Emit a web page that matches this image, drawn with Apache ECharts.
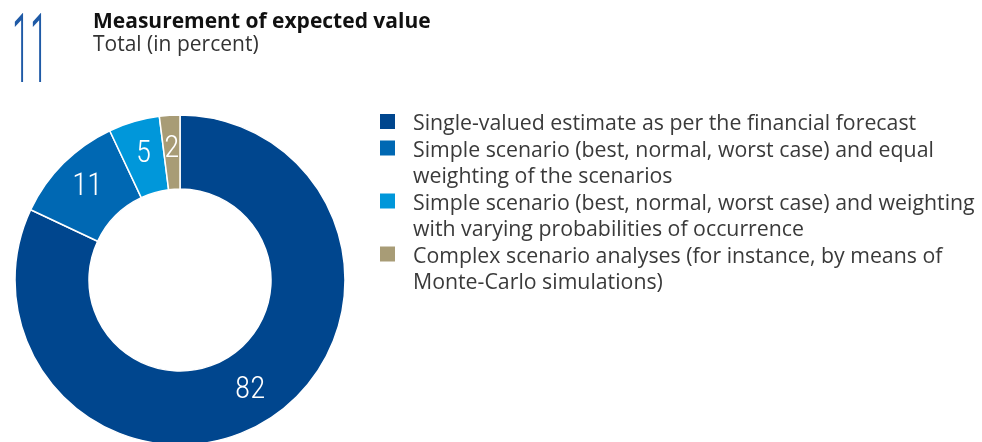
<!DOCTYPE html>
<html>
<head>
<meta charset="utf-8">
<script src="https://cdn.jsdelivr.net/npm/echarts@6/dist/echarts.min.js"></script>
<style>
html, body { margin: 0; padding: 0; background: #fff; }
#main { width: 982px; height: 442px; }
</style>
</head>
<body>
<div id="main"></div>
<script>
// 数据
var chartNo = '11';
var chartTitle = 'Measurement of expected value';
var chartSub = 'Total (in percent)';
var categories = [
  'Single-valued estimate as per the financial forecast',
  'Simple scenario (best, normal, worst case) and equal\nweighting of the scenarios',
  'Simple scenario (best, normal, worst case) and weighting\nwith varying probabilities of occurrence',
  'Complex scenario analyses (for instance, by means of\nMonte-Carlo simulations)'
];
var shares = [82, 11, 5, 2];
var colors = ['#00468e', '#0068b3', '#0097da', '#a89c76'];

var myChart = echarts.init(document.getElementById('main'));

// 图例：方块对齐第一行
var graphics = [
  {
    type: 'text',
    x: 12, y: 10,
    scaleX: 0.34,
    style: { text: chartNo, font: '300 96px Roboto', fill: '#1f5aa6' }
  }
];
var lineH = 26.5;
var y = 114;
for (var i = 0; i < categories.length; i++) {
  graphics.push({
    type: 'rect',
    x: 380, y: y,
    shape: { width: 15, height: 15 },
    style: { fill: colors[i] }
  });
  graphics.push({
    type: 'text',
    x: 413, y: y - 3,
    style: {
      text: categories[i],
      fill: '#3a3a3a',
      font: '21.3px "Open Sans", sans-serif',
      lineHeight: lineH
    }
  });
  y += lineH * categories[i].split('\n').length;
}

var data = [];
for (var i = 0; i < shares.length; i++) {
  data.push({ name: categories[i], value: shares[i], itemStyle: { color: colors[i] } });
}

option = {
  animation: false,
  title: {
    text: chartTitle,
    subtext: chartSub,
    left: 93, top: 11,
    itemGap: 0,
    padding: 0,
    textStyle: { color: '#111', fontSize: 21, fontWeight: 'bold', lineHeight: 23, fontFamily: '"Open Sans", sans-serif' },
    subtextStyle: { color: '#333', fontSize: 21, lineHeight: 23, fontFamily: '"Open Sans", sans-serif' }
  },
  graphic: graphics,
  series: [
    {
      type: 'pie',
      center: [180, 280],
      radius: [91, 165],
      startAngle: 90,
      clockwise: true,
      silent: true,
      itemStyle: { borderColor: '#fff', borderWidth: 1.5 },
      label: {
        show: true,
        position: 'inside',
        formatter: '{c}',
        color: '#fff',
        fontSize: 31,
        fontWeight: '300 condensed',
        fontFamily: 'Roboto, sans-serif'
      },
      labelLine: { show: false },
      data: data
    }
  ]
};

myChart.setOption(option);
</script>
</body>
</html>
